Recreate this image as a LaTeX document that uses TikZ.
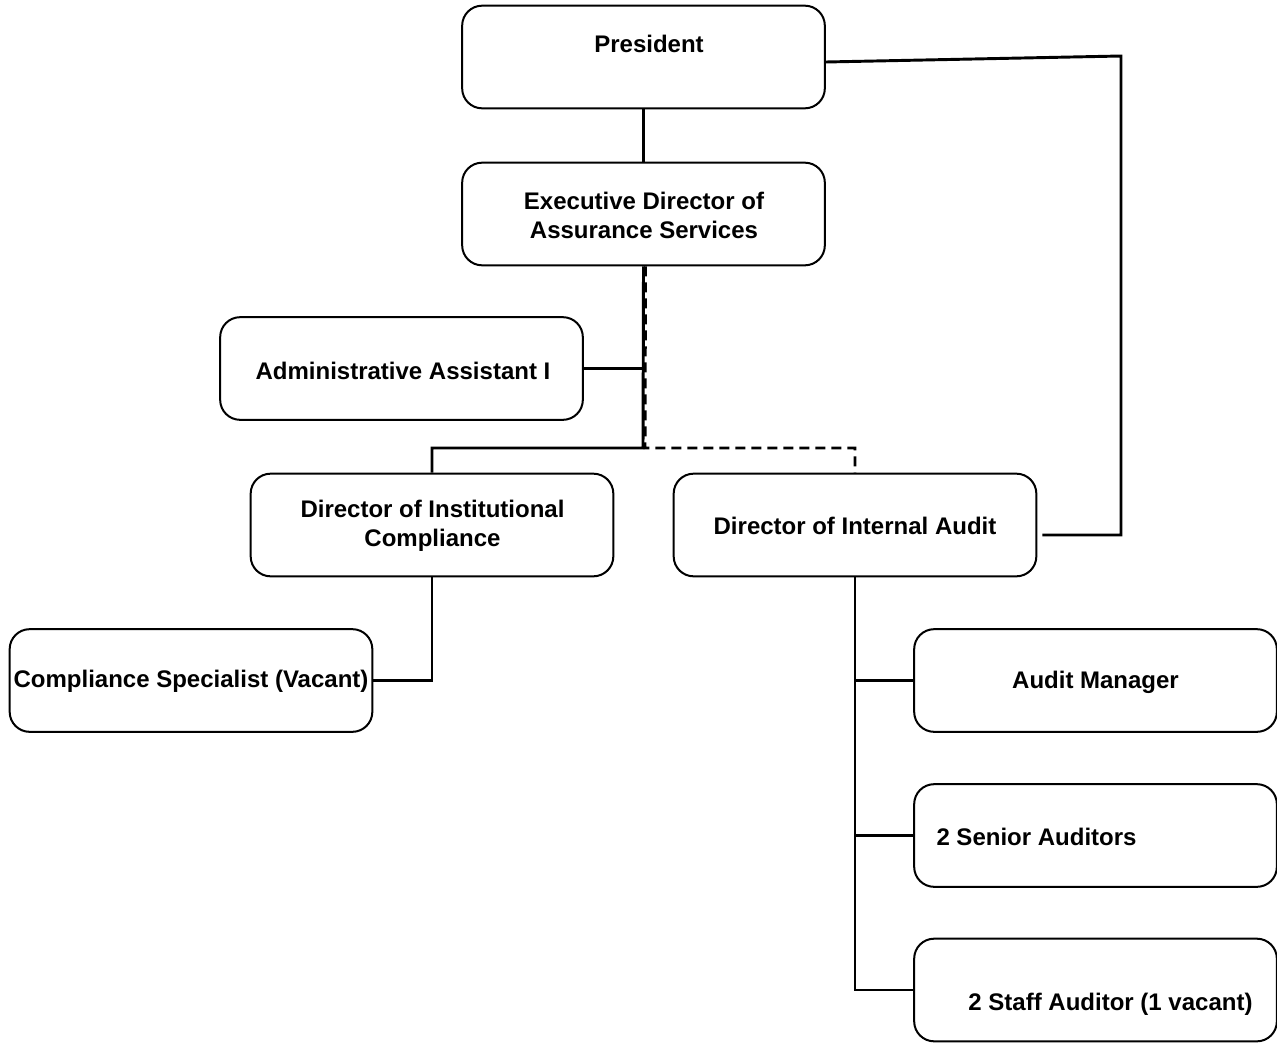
\documentclass[tikz,border=0pt]{standalone}
\usepackage{fontspec}
\setmainfont{Liberation Sans}
\usetikzlibrary{calc}

\begin{document}
\begin{tikzpicture}[x=0.75pt,y=-0.75pt,
  unit/.style={draw=black, line width=1.5pt, rounded corners=15pt, minimum width=272pt, minimum height=77pt, inner sep=0pt},
  title/.style={font=\fontsize{18}{21.8}\selectfont\bfseries, align=center, inner sep=0pt},
  link/.style={black, line width=2.2pt}]
\useasboundingbox (0,0) rectangle (1277,1042);
% boxes
\node [unit] (pres) at (643.5,57) {};
\node [unit] (edas) at (643.5,214) {};
\node [unit] (admin) at (401.5,368.5) {};
\node [unit] (dic) at (432,525) {};
\node [unit] (dia) at (855,525) {};
\node [unit] (cs) at (191,680.5) {};
\node [unit] (am) at (1095.5,680.5) {};
\node [unit] (sa) at (1095.5,835.5) {};
\node [unit] (staff) at (1095.5,990) {};
% texts
\node [title] (pres-t) at (649,44) {President};
\node [title] (edas-t) at (644,215.5) {Executive Director of\\Assurance Services};
\node [title] (admin-t) at (403,371) {Administrative Assistant I};
\node [title] (dic-t) at (432.5,526) {Director of Institutional\\Compliance};
\node [title] (dia-t) at (855,526) {Director of Internal Audit};
\node [title] (cs-t) at (191,681) {Compliance Specialist (Vacant)};
\node [title] (am-t) at (1095.5,682) {Audit Manager};
\node [title] (sa-t) at (1036.5,837) {2 Senior Auditors};
\node [title] (staff-t) at (1110.5,1004) {2 Staff Auditor (1 vacant)};
% connectors
\coordinate (bus) at (643,448);
\coordinate (dbus) at (645,448);
\coordinate (rt) at (1121,56);
\coordinate (rb) at (1121,535);
\draw [link] (pres.south) -- (edas.south |- pres.south) -- (edas.north);
\draw [link] (edas.south) -- (bus) -| (dic.north);
\draw [link] (admin.east) -- (admin.east -| bus);
\draw [link, dash pattern=on 7.5pt off 4.5pt] ($(edas.south)+(2,0)$) -- (dbus) -| (dia.north);
\draw [link] ($(pres.east)+(0,5)$) -- (rt) -- (rb) -- ($(dia.east)+(5,10)$);
\draw [link] (dic.south) |- (cs.east);
\draw [link] (dia.south) |- (staff.west);
\draw [link] (dia.south |- am.west) -- (am.west);
\draw [link] (dia.south |- sa.west) -- (sa.west);
\end{tikzpicture}
\end{document}
